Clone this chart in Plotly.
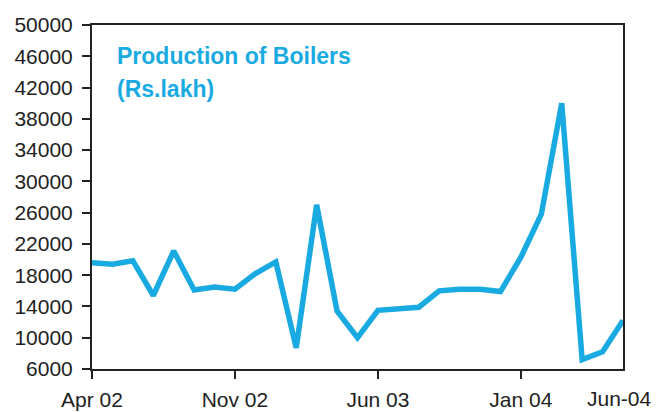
import plotly.graph_objects as go

# Monthly production of boilers, Apr 2002 – Jun 2004 (Rs. lakh)
months = [
    "Apr 02", "May 02", "Jun 02", "Jul 02", "Aug 02", "Sep 02", "Oct 02",
    "Nov 02", "Dec 02", "Jan 03", "Feb 03", "Mar 03", "Apr 03", "May 03",
    "Jun 03", "Jul 03", "Aug 03", "Sep 03", "Oct 03", "Nov 03", "Dec 03",
    "Jan 04", "Feb 04", "Mar 04", "Apr 04", "May 04", "Jun 04",
]
production = [
    19600, 19400, 19850, 15400, 21100, 16100, 16500,
    16200, 18200, 19700, 8700, 27000, 13400, 10000,
    13500, 13700, 13900, 16000, 16200, 16200, 15900,
    20300, 25800, 40000, 7200, 8200, 12200,
]
x_tick_labels = ["Apr 02", "Nov 02", "Jun 03", "Jan 04"]
last_label = "Jun-04"
y_ticks = list(range(6000, 50001, 4000))
title_lines = ["Production of Boilers", "(Rs.lakh)"]

BLUE = "#1AAAE2"
INK = "#222222"
FONT = "Liberation Sans, Arial, sans-serif"

x_idx = list(range(len(months)))
tick_pos = [months.index(m) for m in x_tick_labels]

fig = go.Figure()
fig.add_trace(go.Scatter(
    x=x_idx, y=production, mode="lines",
    line=dict(color=BLUE, width=5.5),
    hoverinfo="skip", showlegend=False,
))

axis_style = dict(
    ticks="outside", ticklen=8, tickwidth=2, tickcolor=INK,
    showline=True, linecolor=INK, linewidth=2, mirror=True,
    showgrid=False, zeroline=False, automargin=False,
    tickfont=dict(family=FONT, size=21, color=INK),
)

fig.update_layout(
    width=656, height=412,
    margin=dict(l=92, r=33, t=25, b=43, autoexpand=False),
    paper_bgcolor="white", plot_bgcolor="white",
    font=dict(family=FONT, size=21, color=INK),
    xaxis=dict(
        range=[0, len(months) - 1],
        tickvals=tick_pos, ticktext=x_tick_labels,
        ticklabelstandoff=3,
        **axis_style,
    ),
    yaxis=dict(
        range=[6000, 50000],
        tickvals=y_ticks, ticktext=[str(v) for v in y_ticks],
        ticklabelstandoff=5,
        **axis_style,
    ),
    annotations=[
        dict(
            x=0.044, y=0.9535, xref="paper", yref="paper",
            xanchor="left", yanchor="top",
            text=f"<b>{title_lines[0]}</b>", showarrow=False,
            font=dict(family=FONT, size=23, color=BLUE),
        ),
        dict(
            x=0.044, y=0.8576, xref="paper", yref="paper",
            xanchor="left", yanchor="top",
            text=f"<b>{title_lines[1]}</b>", showarrow=False,
            font=dict(family=FONT, size=23, color=BLUE),
        ),
        dict(
            x=len(months) - 1, y=0, xref="x", yref="paper",
            xanchor="center", yanchor="top", xshift=-4, yshift=-16,
            text=last_label, showarrow=False,
            font=dict(family=FONT, size=21, color=INK),
        ),
    ],
)

fig.write_html("out.html")
